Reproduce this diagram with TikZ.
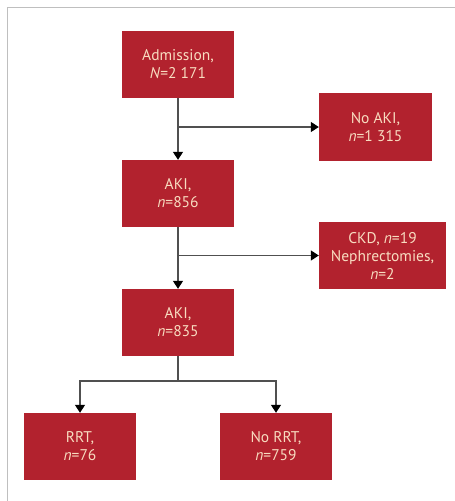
\documentclass[tikz,border=0pt]{standalone}
\usepackage{fontspec}
\setmainfont{PT Sans}
\usetikzlibrary{arrows.meta}
\definecolor{boxred}{HTML}{B2222E}
\definecolor{boxtext}{HTML}{F8DCC0}
\definecolor{linegray}{HTML}{505050}
\tikzset{
  fbox/.style={fill=boxred, draw=none, text=boxtext, align=center, inner sep=0pt,
    font=\fontsize{15.5}{18}\selectfont},
  conn/.style={draw=linegray, line width=1.4pt},
  arr/.style={conn, -{Triangle[length=8pt,width=10pt,color=black]}},
}
\begin{document}
\begin{tikzpicture}[x=1pt,y=-1pt]
\useasboundingbox (0,0) rectangle (455,501);
\draw[draw=gray!50, line width=1pt] (7,501) -- (7,7) -- (455,7);
% boxes: centers and sizes
\node[fbox, minimum width=112pt, minimum height=67pt] (adm) at (178,64.5) {Admission,\\\textit{N}=2 171};
\node[fbox, minimum width=113pt, minimum height=68pt] (noaki) at (375.5,127) {No AKI,\\\textit{n}=1 315};
\node[fbox, minimum width=112pt, minimum height=67pt] (aki1) at (178,193.5) {AKI,\\\textit{n}=856};
\node[fbox, minimum width=127pt, minimum height=67pt] (ckd) at (382.5,255.5) {CKD, \textit{n}=19\\Nephrectomies,\\\textit{n}=2};
\node[fbox, minimum width=112pt, minimum height=67pt] (aki2) at (178,322.5) {AKI,\\\textit{n}=835};
\node[fbox, minimum width=112pt, minimum height=67pt] (rrt) at (80,446.5) {RRT,\\\textit{n}=76};
\node[fbox, minimum width=112pt, minimum height=67pt] (norrt) at (276,446.5) {No RRT,\\\textit{n}=759};
% connectors
\coordinate (j1) at (adm.south |- noaki.west);
\coordinate (j2) at (aki1.south |- ckd.west);
\coordinate (j3) at (178,381);
\draw[arr] (adm.south) -- (aki1.north);
\draw[arr] (j1) -- (noaki.west);
\draw[arr] (aki1.south) -- (aki2.north);
\draw[arr] (j2) -- (ckd.west);
\draw[conn] (aki2.south) -- (j3);
\draw[arr] (j3) -| (rrt.north);
\draw[arr] (j3) -| (norrt.north);
\end{tikzpicture}
\end{document}
